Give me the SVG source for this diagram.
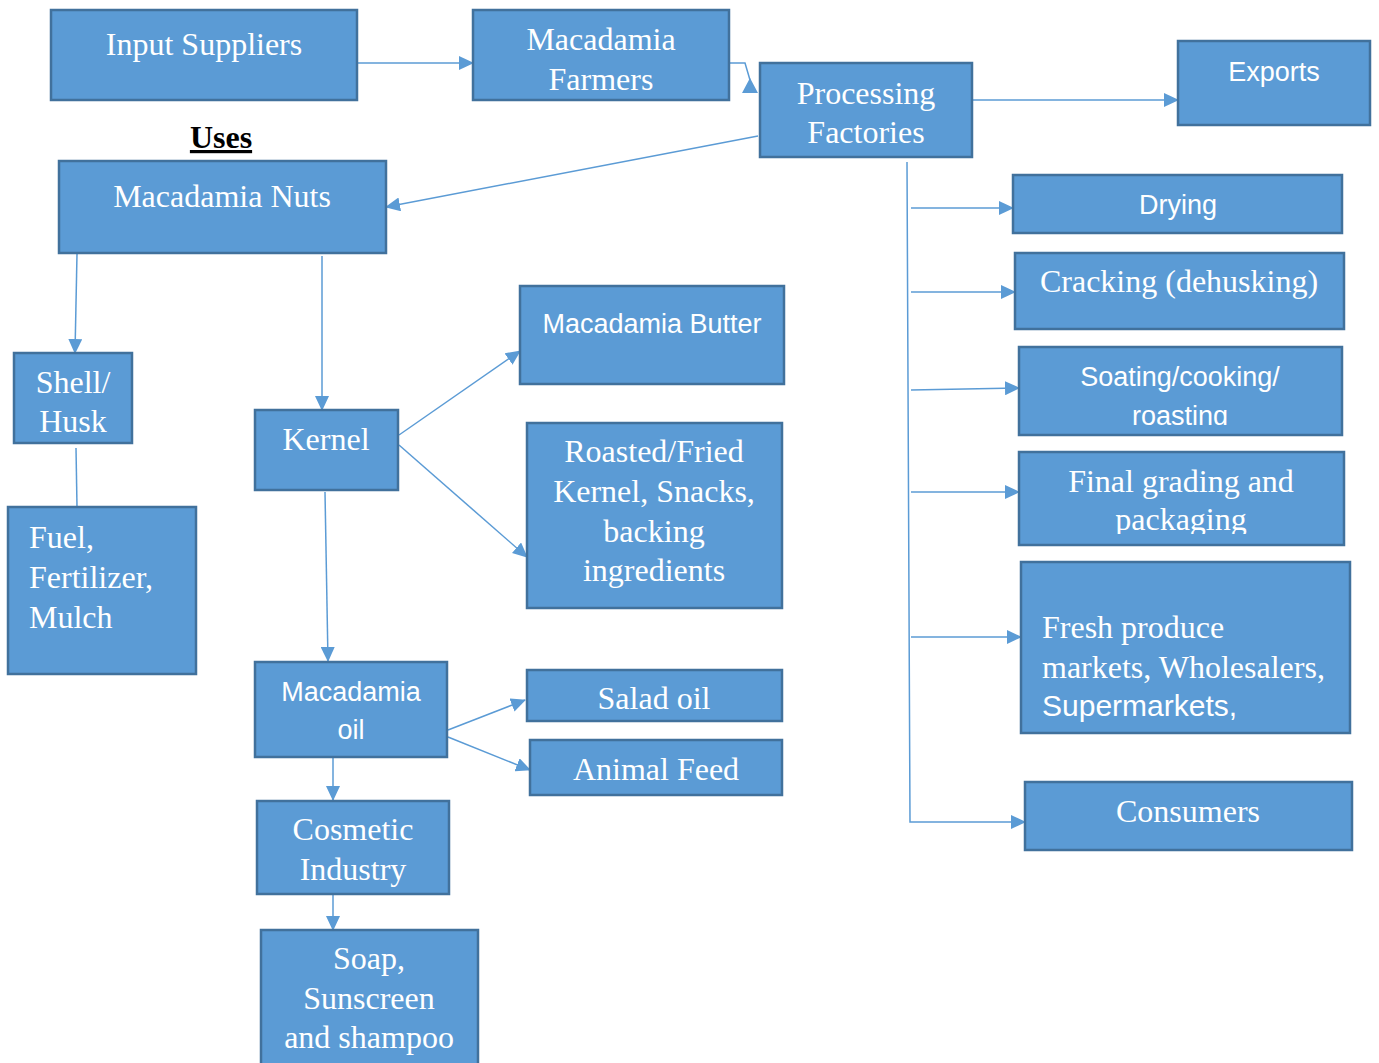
<svg xmlns="http://www.w3.org/2000/svg" width="1379" height="1063" viewBox="0 0 1379 1063">
<style>
.box{fill:#5B9BD5;stroke:#41719C;stroke-width:2.5}
.s{font-family:"Liberation Serif","Times New Roman",serif;font-size:32px;fill:#fff}
.a{font-family:"Liberation Sans",Arial,sans-serif;font-size:27px;fill:#fff}
.c{stroke:#5B9BD5;stroke-width:1.5;fill:none}
.m{text-anchor:middle}
</style>
<defs>
<marker id="ah" viewBox="0 0 15 14" refX="14" refY="7" markerWidth="15" markerHeight="14" markerUnits="userSpaceOnUse" orient="auto">
<path d="M0,0 L15,7 L0,14 Z" fill="#5B9BD5"/>
</marker>
<clipPath id="c1"><rect x="1019" y="347" width="323" height="78"/></clipPath>
<clipPath id="c2"><rect x="1019" y="452" width="325" height="82"/></clipPath>
</defs>
<text x="221" y="148" font-family="Liberation Serif,serif" font-size="32" font-weight="bold" text-anchor="middle" text-decoration="underline">Uses</text>
<g id="connectors">
<line class="c" x1="357" y1="63" x2="473" y2="63" marker-end="url(#ah)"/>
<polyline class="c" points="730,63 745,63 750,80"/>
<polygon points="750,78 742,93 758,93" fill="#5B9BD5"/>
<line class="c" x1="972" y1="100" x2="1178" y2="100" marker-end="url(#ah)"/>
<line class="c" x1="758" y1="136" x2="386" y2="207" marker-end="url(#ah)"/>
<polyline class="c" points="907,162 910,822 1025,822" marker-end="url(#ah)"/>
<line class="c" x1="911" y1="208" x2="1013" y2="208" marker-end="url(#ah)"/>
<line class="c" x1="911" y1="292" x2="1015" y2="292" marker-end="url(#ah)"/>
<line class="c" x1="911" y1="390" x2="1019" y2="388" marker-end="url(#ah)"/>
<line class="c" x1="911" y1="492" x2="1019" y2="492" marker-end="url(#ah)"/>
<line class="c" x1="911" y1="637" x2="1021" y2="637" marker-end="url(#ah)"/>
<line class="c" x1="77" y1="254" x2="75" y2="353" marker-end="url(#ah)"/>
<line class="c" x1="76" y1="448" x2="77" y2="507"/>
<line class="c" x1="322" y1="256" x2="322" y2="410" marker-end="url(#ah)"/>
<line class="c" x1="399" y1="435" x2="520" y2="351" marker-end="url(#ah)"/>
<line class="c" x1="399" y1="445" x2="527" y2="557" marker-end="url(#ah)"/>
<line class="c" x1="325" y1="492" x2="328" y2="661" marker-end="url(#ah)"/>
<line class="c" x1="448" y1="730" x2="525" y2="700" marker-end="url(#ah)"/>
<line class="c" x1="448" y1="737" x2="530" y2="770" marker-end="url(#ah)"/>
<line class="c" x1="333" y1="758" x2="333" y2="800" marker-end="url(#ah)"/>
<line class="c" x1="333" y1="895" x2="333" y2="930" marker-end="url(#ah)"/>
</g>
<g id="input-suppliers"><rect class="box" x="51" y="10" width="306" height="90"/><text class="s m" x="204" y="55">Input Suppliers</text></g>
<g id="farmers"><rect class="box" x="473" y="10" width="256" height="90"/><text class="s m" x="601" y="50">Macadamia</text><text class="s m" x="601" y="90">Farmers</text></g>
<g id="processing"><rect class="box" x="760" y="63" width="212" height="94"/><text class="s m" x="866" y="104">Processing</text><text class="s m" x="866" y="143">Factories</text></g>
<g id="exports"><rect class="box" x="1178" y="41" width="192" height="84"/><text class="a m" x="1274" y="81">Exports</text></g>
<g id="nuts"><rect class="box" x="59" y="161" width="327" height="92"/><text class="s m" x="222" y="207">Macadamia Nuts</text></g>
<g id="drying"><rect class="box" x="1013" y="175" width="329" height="58"/><text class="a m" x="1178" y="214">Drying</text></g>
<g id="cracking"><rect class="box" x="1015" y="253" width="329" height="76"/><text class="s m" x="1179" y="292">Cracking (dehusking)</text></g>
<g id="soating"><rect class="box" x="1019" y="347" width="323" height="88"/><g clip-path="url(#c1)"><text class="a m" x="1180" y="386">Soating/cooking/</text><text class="a m" x="1180" y="425">roasting</text></g></g>
<g id="grading"><rect class="box" x="1019" y="452" width="325" height="93"/><g clip-path="url(#c2)"><text class="s m" x="1181" y="492">Final grading and</text><text class="s m" x="1181" y="530">packaging</text></g></g>
<g id="fresh"><rect class="box" x="1021" y="562" width="329" height="171"/><text class="s" x="1042" y="638">Fresh produce</text><text class="s" x="1042" y="678">markets, Wholesalers,</text><text class="a" x="1042" y="716" style="font-size:30px">Supermarkets,</text></g>
<g id="consumers"><rect class="box" x="1025" y="782" width="327" height="68"/><text class="s m" x="1188" y="822">Consumers</text></g>
<g id="shell"><rect class="box" x="14" y="353" width="118" height="90"/><text class="s m" x="73" y="393">Shell/</text><text class="s m" x="73" y="432">Husk</text></g>
<g id="fuel"><rect class="box" x="8" y="507" width="188" height="167"/><text class="s" x="29" y="548">Fuel,</text><text class="s" x="29" y="588">Fertilizer,</text><text class="s" x="29" y="628">Mulch</text></g>
<g id="kernel"><rect class="box" x="255" y="410" width="143" height="80"/><text class="s m" x="326" y="450">Kernel</text></g>
<g id="butter"><rect class="box" x="520" y="286" width="264" height="98"/><text class="a m" x="652" y="333">Macadamia Butter</text></g>
<g id="roasted"><rect class="box" x="527" y="423" width="255" height="185"/><text class="s m" x="654" y="462">Roasted/Fried</text><text class="s m" x="654" y="502">Kernel, Snacks,</text><text class="s m" x="654" y="542">backing</text><text class="s m" x="654" y="581">ingredients</text></g>
<g id="oil"><rect class="box" x="255" y="662" width="192" height="95"/><text class="a m" x="351" y="701">Macadamia</text><text class="a m" x="351" y="739">oil</text></g>
<g id="salad"><rect class="box" x="527" y="670" width="255" height="51"/><text class="s m" x="654" y="709">Salad oil</text></g>
<g id="feed"><rect class="box" x="530" y="740" width="252" height="55"/><text class="s m" x="656" y="780">Animal Feed</text></g>
<g id="cosmetic"><rect class="box" x="257" y="801" width="192" height="93"/><text class="s m" x="353" y="840">Cosmetic</text><text class="s m" x="353" y="880">Industry</text></g>
<g id="soap"><rect class="box" x="261" y="930" width="217" height="140"/><text class="s m" x="369" y="969">Soap,</text><text class="s m" x="369" y="1009">Sunscreen</text><text class="s m" x="369" y="1048">and shampoo</text></g>
</svg>
